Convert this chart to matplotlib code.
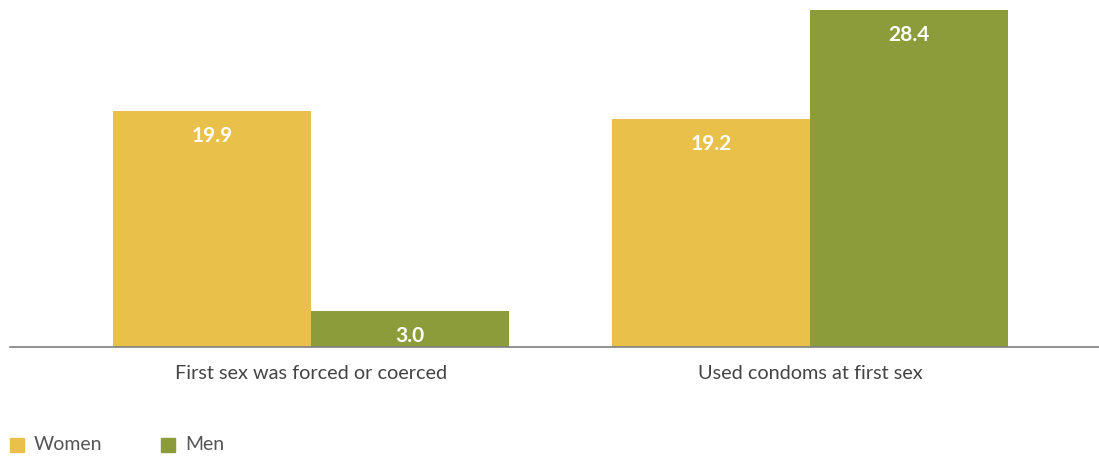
import numpy as np
import matplotlib.pyplot as plt
from matplotlib.patches import Rectangle

categories = ["First sex was forced or coerced", "Used condoms at first sex"]
women = [19.9, 19.2]
men = [3.0, 28.4]
series_names = ["Women", "Men"]
colors = ["#E9C04A", "#8C9C3A"]

plt.rcParams['font.family'] = ['Lato', 'DejaVu Sans']

fig = plt.figure(figsize=(10.99, 4.58), dpi=100)
ax = fig.add_axes([10 / 1099, 111 / 458, 1 - 10 / 1099, 347 / 458])

x = np.arange(len(categories))
w = 0.397
ax.bar(x - w / 2, women, width=w, color=colors[0], label=series_names[0])
ax.bar(x + w / 2, men, width=w, color=colors[1], label=series_names[1])

for vals, off in [(women, -w / 2), (men, w / 2)]:
    for xi, v in zip(x, vals):
        ax.annotate(f"{v:.1f}", (xi + off, v), xytext=(0, -18), textcoords="offset points",
                    ha="center", va="center", color="white", fontsize=15, fontweight="bold")

ax.set_xlim(-0.603, 1.579)
ax.set_ylim(0, 29.26)
for s in ["top", "right", "left"]:
    ax.spines[s].set_visible(False)
ax.spines["bottom"].set_color("#7f7f7f")
ax.spines["bottom"].set_linewidth(1.2)
ax.set_yticks([])
ax.set_xticks(x)
ax.set_xticklabels(categories, fontsize=14.3, color="#444444")
ax.tick_params(axis="x", length=0, pad=13)

# legend
for i, (name, c) in enumerate(zip(series_names, colors)):
    x0 = [10, 161][i]
    fig.patches.append(Rectangle((x0 / 1099, 1 - 452 / 458), 14 / 1099, 14 / 458,
                                 transform=fig.transFigure, color=c, figure=fig))
    fig.text((x0 + 24) / 1099, 1 - 445 / 458, name, fontsize=14, color="#555555",
             ha="left", va="center")

fig.savefig("out.png", dpi=100)
